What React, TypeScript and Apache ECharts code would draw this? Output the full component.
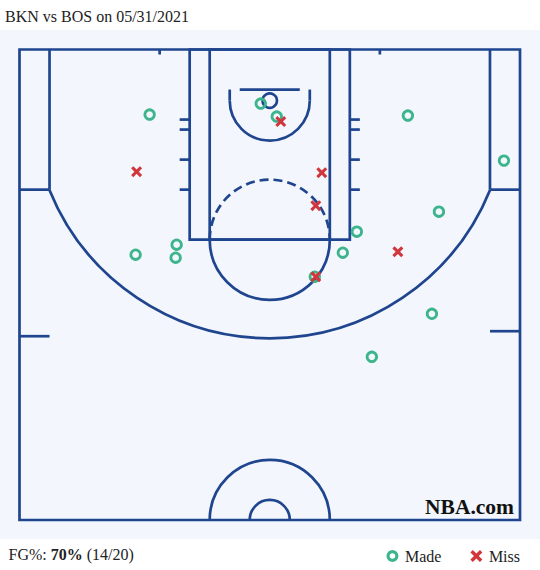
import React, { useEffect, useRef } from "react";
import * as echarts from "echarts";

// ---- Data (court feet: x from basket centre, y from baseline) ----
const categories = ["Made", "Miss"];
const madeShots: number[][] = [
  [-12.0, 6.5],
  [-0.9, 5.4],
  [0.7, 6.7],
  [13.8, 6.6],
  [23.4, 11.1],
  [16.9, 16.2],
  [8.7, 18.2],
  [7.3, 20.3],
  [4.5, 22.7],
  [-13.4, 20.5],
  [-9.3, 19.5],
  [-9.4, 20.8],
  [16.2, 26.4],
  [10.2, 30.7],
];
const missedShots: number[][] = [
  [1.1, 7.2],
  [-13.3, 12.2],
  [5.2, 12.3],
  [4.6, 15.6],
  [12.8, 20.2],
  [4.6, 22.7],
];
const titleText = "BKN vs BOS on 05/31/2021";
const fgPct = "70%";
const fgCount = "(14/20)";

const LINE = "#1f458f";
const GREEN = "#3db58c";
const RED = "#d0363b";
const BG = "#f3f6fd";
const FONT = "Liberation Serif";
const BASKET_Y = 5.1;
const X_PATH =
  "path://M0,2L2,0L5,3L8,0L10,2L7,5L10,8L8,10L5,7L2,10L0,8L3,5Z";
const RING_PATH =
  "path://M6,0A6,6,0,1,1,6,12A6,6,0,1,1,6,0ZM6,3.2A2.8,2.8,0,1,0,6,8.8A2.8,2.8,0,1,0,6,3.2Z";

function renderCourt(_params: any, api: any) {
  const c = (x: number, y: number) => api.coord([x, y]);
  const s = api.size([1, 0])[0];
  const st: any = { stroke: LINE, lineWidth: 2.7, fill: "none" };
  const line = (x1: number, y1: number, x2: number, y2: number) => {
    const a = c(x1, y1);
    const b = c(x2, y2);
    return { type: "line", shape: { x1: a[0], y1: a[1], x2: b[0], y2: b[1] }, style: st };
  };
  const rect = (x1: number, y1: number, x2: number, y2: number) => {
    const a = c(x1, y1);
    const b = c(x2, y2);
    return {
      type: "rect",
      shape: {
        x: Math.min(a[0], b[0]),
        y: Math.min(a[1], b[1]),
        width: Math.abs(b[0] - a[0]),
        height: Math.abs(b[1] - a[1]),
      },
      style: st,
    };
  };
  const arc = (x: number, y: number, r: number, sa: number, ea: number, extra: any = {}) => {
    const o = c(x, y);
    return {
      type: "arc",
      shape: { cx: o[0], cy: o[1], r: r * s, startAngle: sa, endAngle: ea, clockwise: true },
      style: { ...st, ...extra },
    };
  };
  const rim = c(0, BASKET_Y);
  const a3 = Math.asin((14 - BASKET_Y) / 23.75);
  const children: any[] = [
    rect(-25, 0, 25, 47),
    rect(-8, 0, 8, 19),
    rect(-6, 0, 6, 19),
    line(-22, 0, -22, 14),
    line(22, 0, 22, 14),
    line(-25, 14, -22, 14),
    line(22, 14, 25, 14),
    arc(0, BASKET_Y, 23.75, a3, Math.PI - a3),
    // restricted area
    line(-4, 4, -4, BASKET_Y),
    line(4, 4, 4, BASKET_Y),
    arc(0, BASKET_Y, 4, 0, Math.PI),
    // backboard and rim
    line(-3, 4, 3, 4),
    { type: "circle", shape: { cx: rim[0], cy: rim[1], r: 0.72 * s }, style: st },
    // free throw circle
    arc(0, 19, 6, 0, Math.PI),
    arc(0, 19, 6, Math.PI, 2 * Math.PI, { lineDash: [9, 5] }),
    // lane hash marks
    line(-9, 7, -8, 7),
    line(-9, 8, -8, 8),
    line(-9, 11, -8, 11),
    line(-9, 14, -8, 14),
    line(8, 7, 9, 7),
    line(8, 8, 9, 8),
    line(8, 11, 9, 11),
    line(8, 14, 9, 14),
    // baseline ticks
    line(-11, 0, -11, 0.5),
    line(11, 0, 11, 0.5),
    // side marks
    line(-25, 28.64, -22, 28.64),
    line(22, 28.14, 25, 28.14),
    // centre circles
    arc(0, 47, 6, Math.PI, 2 * Math.PI),
    arc(0, 47, 2, Math.PI, 2 * Math.PI),
  ];
  return { type: "group", children };
}

export default function App() {
  const ref = useRef<HTMLDivElement>(null);
  useEffect(() => {
    if (!ref.current) return;
    const chart = echarts.init(ref.current, undefined, { renderer: "svg" });
    chart.setOption({
      animation: false,
      backgroundColor: "#ffffff",
      grid: { left: 19.5, top: 49.5, width: 500.5, height: 470.5 },
      xAxis: { type: "value", min: -25, max: 25, show: false },
      yAxis: { type: "value", min: 0, max: 47, inverse: true, show: false },
      legend: {
        selectedMode: false,
        right: 20,
        top: 548,
        padding: 0,
        itemGap: 29,
        itemWidth: 15,
        itemHeight: 12,
        symbolKeepAspect: true,
        textStyle: { fontFamily: FONT, fontSize: 16, color: "#222" },
        data: [
          {
            name: categories[0],
            icon: RING_PATH,
            itemStyle: { color: GREEN, borderWidth: 0 },
          },
          { name: categories[1], icon: X_PATH, itemStyle: { color: RED, borderWidth: 0 } },
        ],
      },
      graphic: [
        {
          type: "rect",
          z: -10,
          silent: true,
          shape: { x: 0, y: 30, width: 540, height: 509 },
          style: { fill: BG },
        },
        {
          type: "text",
          silent: true,
          style: {
            text: titleText,
            x: 5,
            y: 16.3,
            font: `16px "${FONT}"`,
            fill: "#222",
            textAlign: "left",
            textVerticalAlign: "middle",
          },
        },
        {
          type: "text",
          silent: true,
          style: {
            text: `{n|FG%: }{b|${fgPct}}{n| ${fgCount}}`,
            x: 8.5,
            y: 554.6,
            textAlign: "left",
            textVerticalAlign: "middle",
            rich: {
              n: { fontFamily: FONT, fontSize: 16, fill: "#222" },
              b: { fontFamily: FONT, fontSize: 16, fontWeight: "bold", fill: "#222" },
            },
          },
        },
        {
          type: "text",
          silent: true,
          style: {
            text: "NBA.com",
            x: 514,
            y: 507,
            font: `bold 21.5px "${FONT}"`,
            fill: "#111",
            textAlign: "right",
            textVerticalAlign: "middle",
          },
        },
      ],
      series: [
        {
          type: "custom",
          name: "court",
          silent: true,
          clip: false,
          z: 1,
          data: [[0, 0]],
          renderItem: renderCourt,
        },
        {
          type: "scatter",
          name: categories[0],
          data: madeShots,
          symbol: "circle",
          symbolSize: 9.5,
          z: 3,
          itemStyle: { color: "rgba(0,0,0,0)", borderColor: GREEN, borderWidth: 2.8, opacity: 1 },
        },
        {
          type: "scatter",
          name: categories[1],
          data: missedShots,
          symbol: X_PATH,
          symbolSize: 11,
          z: 4,
          itemStyle: { color: RED, opacity: 1 },
        },
      ],
    });
    return () => chart.dispose();
  }, []);
  return (
    <div
      ref={ref}
      style={{ position: "fixed", left: 0, top: 0, width: 540, height: 570 }}
    />
  );
}
